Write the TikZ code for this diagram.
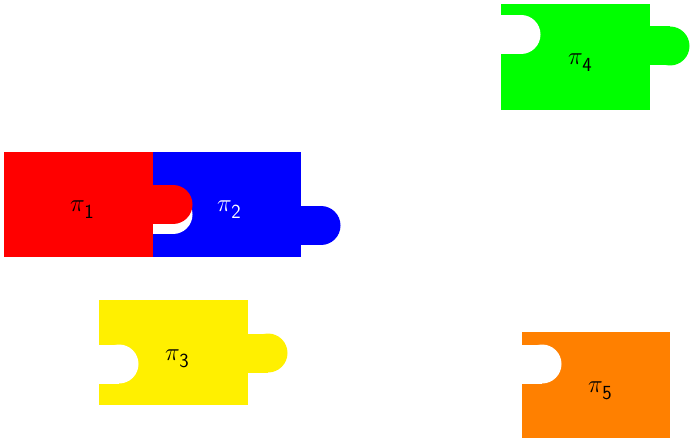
\documentclass[tikz,border=0pt]{standalone}
\usepackage{fontspec}
\definecolor{pzred}{RGB}{255,0,0}
\definecolor{pzblue}{RGB}{0,0,255}
\definecolor{pzgreen}{RGB}{0,255,0}
\definecolor{pzyellow}{RGB}{255,240,0}
\definecolor{pzorange}{RGB}{255,128,0}
\newcommand\pztab[3]{\fill[#1] (#2,#3-19.5) rectangle (#2+20,#3+19.5); \fill[#1] (#2+20,#3) circle[radius=19.5pt];}
\newcommand\pzlab[1]{$\pi$\kern-0.02em\raisebox{-0.28em}{\sffamily\fontsize{20}{20}\selectfont #1}}
\tikzset{
  lbl/.style={font=\fontsize{24}{28}\selectfont, inner sep=0pt}
}
\begin{document}
\begin{tikzpicture}[x=1pt,y=-1pt]
\useasboundingbox (0,0) rectangle (690,438);
% blue piece
\fill[pzblue] (153,152) rectangle (301,257);
\pztab{white}{153}{214.5}
\pztab{pzblue}{301}{225.5}
% red piece
\fill[pzred] (4,152) rectangle (153,257);
\pztab{pzred}{153}{204.5}
% green piece
\fill[pzgreen] (501,4) rectangle (650,110);
\pztab{white}{501}{34.5}
\pztab{pzgreen}{650}{46}
% yellow piece
\fill[pzyellow] (99,300) rectangle (248,405);
\pztab{white}{99}{364}
\pztab{pzyellow}{248}{353}
% orange piece
\fill[pzorange] (522,332) rectangle (670,438);
\pztab{white}{522}{364}
% labels
\node[lbl] (p1) at (82,210) {\pzlab{1}};
\node[lbl,text=white] (p2) at (229,210) {\pzlab{2}};
\node[lbl] (p3) at (177,359) {\pzlab{3}};
\node[lbl] (p4) at (580,63) {\pzlab{4}};
\node[lbl] (p5) at (600,391) {\pzlab{5}};
\end{tikzpicture}
\end{document}
